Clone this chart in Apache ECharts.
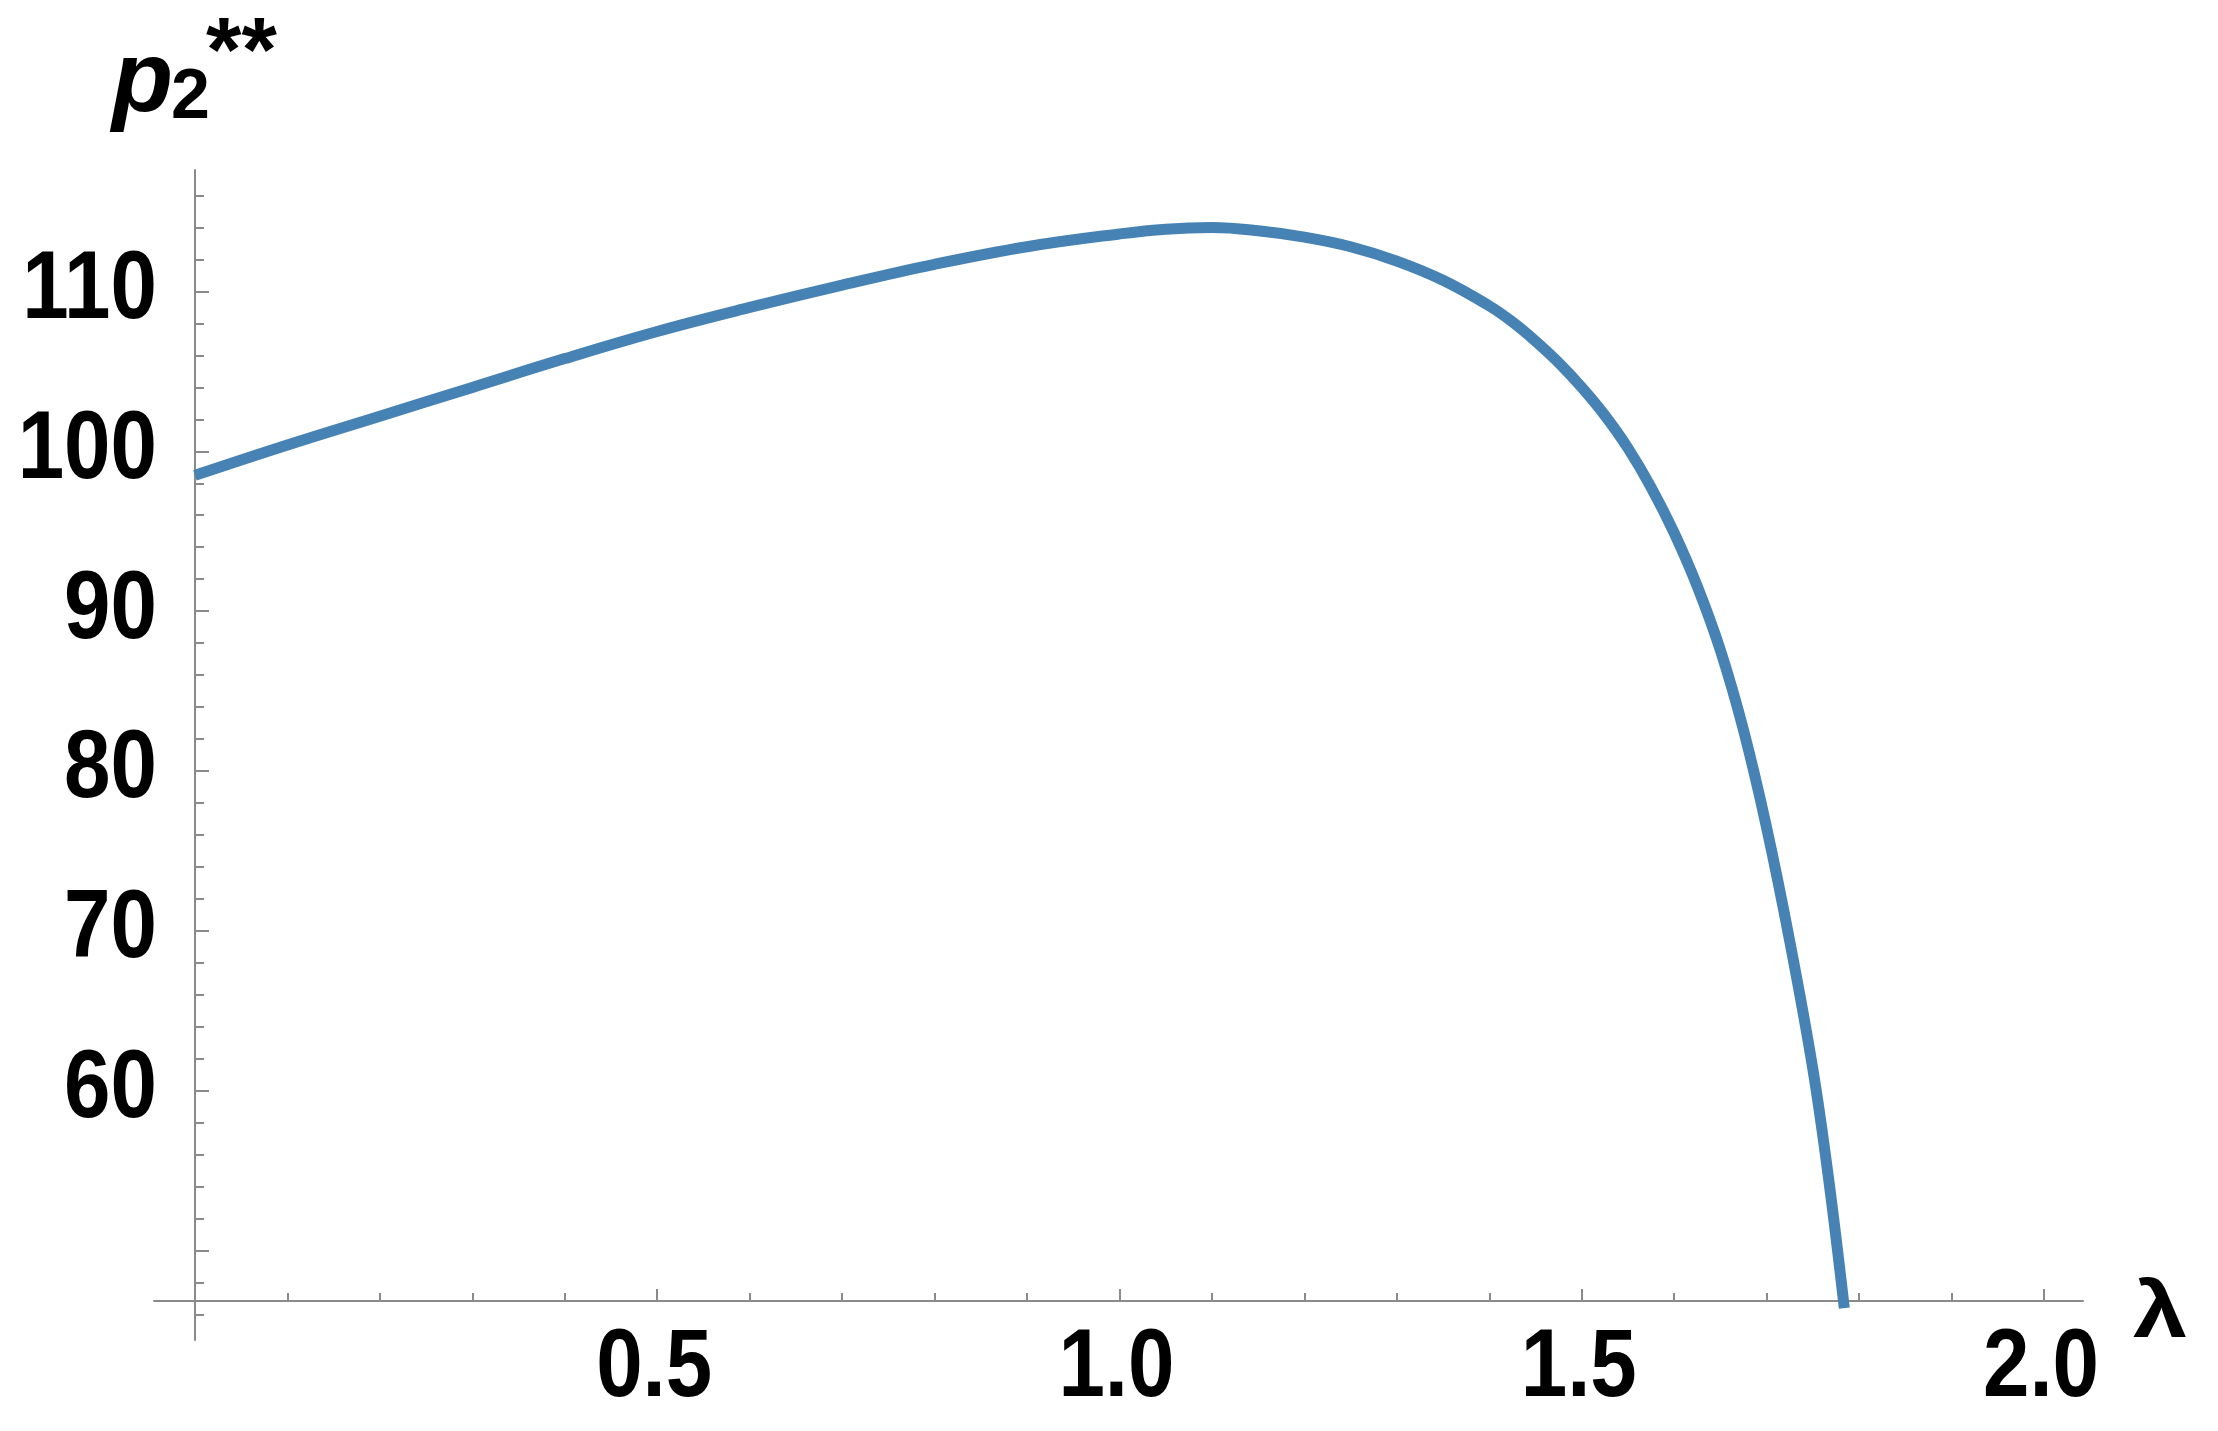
<!DOCTYPE html>
<html>
<head>
<meta charset="utf-8">
<script src="https://cdn.jsdelivr.net/npm/echarts@6/dist/echarts.min.js"></script>
<style>
html,body{margin:0;padding:0;background:#fff;}
#chart{width:2218px;height:1431px;}
</style>
</head>
<body>
<div id="chart"></div>
<script>
// ---- data ----
const lambdaValues = [0.00, 0.10, 0.20, 0.30, 0.40, 0.50, 0.60, 0.70, 0.80, 0.90, 1.00, 1.05, 1.10, 1.15, 1.20, 1.25, 1.30, 1.35, 1.40, 1.425, 1.45, 1.475, 1.50, 1.525, 1.55, 1.575, 1.60, 1.625, 1.65, 1.675, 1.70, 1.725, 1.75, 1.767, 1.784];
const p2Values     = [98.5, 100.4, 102.2, 104.0, 105.8, 107.5, 109.0, 110.4, 111.7, 112.8, 113.6, 113.9, 114.0, 113.8, 113.4, 112.8, 111.9, 110.7, 109.1, 108.1, 106.9, 105.55, 104.0, 102.25, 100.2, 97.75, 94.9, 91.55, 87.55, 82.55, 76.45, 69.35, 61.35, 54.5, 46.4];
const xMajorTicks = [0.5, 1.0, 1.5, 2.0];
const xMinorTicks = [0.1, 0.2, 0.3, 0.4, 0.6, 0.7, 0.8, 0.9, 1.1, 1.2, 1.3, 1.4, 1.6, 1.7, 1.8, 1.9];
const yMajorTicks = [50, 60, 70, 80, 90, 100, 110];
const yTickLabels = [60, 70, 80, 90, 100, 110];
const yMinorTicks = [46, 48, 52, 54, 56, 58, 62, 64, 66, 68, 72, 74, 76, 78, 82, 84, 86, 88, 92, 94, 96, 98, 102, 104, 106, 108, 112, 114, 116];
const xRange = [-0.0443, 2.0422];
const yRange = [44.4, 117.6];
const xName = 'λ';

const axisGray = '#8a8a8a';
const labelFont = '"Liberation Sans", Arial, sans-serif';
const nameFont = '"Liberation Sans", Arial, sans-serif';
const labelSqueeze = 0.87;   // tick labels in the reference are a condensed face

const chart = echarts.init(document.getElementById('chart'), null, {renderer: 'canvas'});

const seriesData = lambdaValues.map((l, i) => [l, p2Values[i]]);

const titleGraphics = [
  {type: 'text', id: 'yname-p', left: 112, top: 33, style: {text: 'p', fill: '#000', font: 'italic bold 100px ' + nameFont}},
  {type: 'text', id: 'yname-sub', left: 171, top: 64, style: {text: '2', fill: '#000', font: 'bold 70px ' + nameFont}},
  {type: 'text', id: 'yname-sup', left: 206, top: 10, style: {text: '**', fill: '#000', font: 'bold 91px ' + nameFont}}
];

const option = {
  backgroundColor: '#ffffff',
  animation: false,
  grid: {left: 154, top: 170, width: 1929, height: 1170, containLabel: false},
  xAxis: [
    {
      type: 'value', min: xRange[0], max: xRange[1], position: 'bottom', offset: -39,
      axisLine: {show: true, lineStyle: {color: axisGray, width: 2}},
      axisTick: {show: true, inside: true, length: 12, customValues: xMajorTicks, lineStyle: {color: axisGray, width: 2}},
      axisLabel: {show: false, customValues: xMajorTicks},
      splitLine: {show: false}
    },
    {
      type: 'value', min: xRange[0], max: xRange[1], position: 'bottom', offset: -39,
      axisLine: {show: false},
      axisTick: {show: true, inside: true, length: 8, customValues: xMinorTicks, lineStyle: {color: axisGray, width: 2}},
      axisLabel: {show: false},
      splitLine: {show: false}
    }
  ],
  yAxis: [
    {
      type: 'value', min: yRange[0], max: yRange[1], position: 'left', offset: -41,
      axisLine: {show: true, lineStyle: {color: axisGray, width: 2}},
      axisTick: {show: true, inside: true, length: 14, customValues: yMajorTicks, lineStyle: {color: axisGray, width: 2}},
      axisLabel: {show: false, customValues: yTickLabels},
      splitLine: {show: false}
    },
    {
      type: 'value', min: yRange[0], max: yRange[1], position: 'left', offset: -41,
      axisLine: {show: false},
      axisTick: {show: true, inside: true, length: 9, customValues: yMinorTicks, lineStyle: {color: axisGray, width: 2}},
      axisLabel: {show: false},
      splitLine: {show: false}
    }
  ],
  graphic: titleGraphics,
  series: [
    {
      type: 'line', xAxisIndex: 0, yAxisIndex: 0, data: seriesData,
      showSymbol: false, symbol: 'none', smooth: 0.4, clip: false,
      lineStyle: {color: '#4682b4', width: 11}
    }
  ]
};
chart.setOption(option);

// Tick labels and axis name: placed from the axis scale positions (labels condensed by a horizontal squeeze)
const xAxisPixelY = chart.convertToPixel({yAxisIndex: 0}, yRange[0]) - 39;
const yAxisPixelX = chart.convertToPixel({xAxisIndex: 0}, xRange[0]) + 41;
const xAxisEndX = chart.convertToPixel({xAxisIndex: 0}, xRange[1]);
const labelGraphics = [];
xMajorTicks.forEach((v, i) => {
  labelGraphics.push({
    type: 'text', id: 'xl' + i,
    x: chart.convertToPixel({xAxisIndex: 0}, v) - 3, y: xAxisPixelY + 21,
    scaleX: labelSqueeze, scaleY: 1,
    style: {text: v.toFixed(1), fill: '#000', font: 'bold 96px ' + labelFont, align: 'center', verticalAlign: 'top'}
  });
});
yTickLabels.forEach((v, i) => {
  labelGraphics.push({
    type: 'text', id: 'yl' + i,
    x: yAxisPixelX - 38, y: chart.convertToPixel({yAxisIndex: 0}, v),
    scaleX: labelSqueeze, scaleY: 1,
    style: {text: String(v), fill: '#000', font: 'bold 96px ' + labelFont, align: 'right', verticalAlign: 'middle'}
  });
});
labelGraphics.push({
  type: 'text', id: 'xname',
  x: xAxisEndX + 50, y: xAxisPixelY + 14,
  scaleX: 1.22, scaleY: 1,
  style: {text: xName, fill: '#000', font: 'bold 80px ' + nameFont, align: 'left', verticalAlign: 'middle'}
});
chart.setOption({graphic: titleGraphics.concat(labelGraphics)});
</script>
</body>
</html>
